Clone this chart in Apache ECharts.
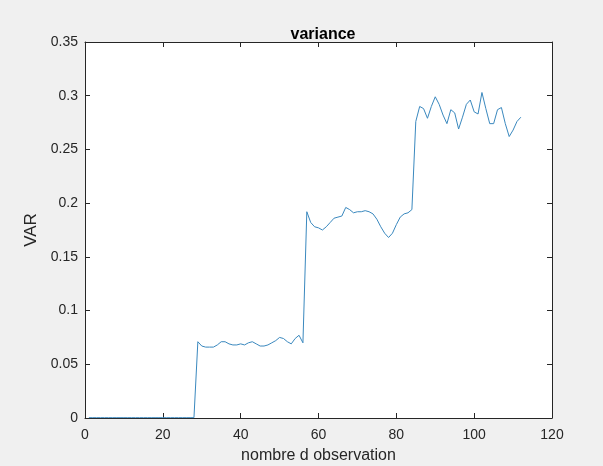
<!DOCTYPE html>
<html>
<head>
<meta charset="utf-8">
<script src="https://cdn.jsdelivr.net/npm/echarts@6/dist/echarts.min.js"></script>
<style>
  html, body { margin: 0; padding: 0; background: #f0f0f0; }
  #chart { width: 603px; height: 466px; }
</style>
</head>
<body>
<div id="chart"></div>
<script>
// Observation index runs 1..112, four blocks of 28
const seg1 = [0.0003,0.0003,0.0003,0.0003,0.0003,0.0003,0.0003,0.0003,0.0003,0.0003,
              0.0003,0.0003,0.0003,0.0003,0.0003,0.0003,0.0003,0.0003,0.0003,0.0003,
              0.0003,0.0003,0.0003,0.0003,0.0003,0.0003,0.0003,0.0003];
const seg2 = [0.071,0.067,0.066,0.066,0.066,0.068,0.071,0.071,0.069,0.068,
              0.068,0.069,0.068,0.070,0.071,0.069,0.067,0.067,0.068,0.070,
              0.072,0.075,0.074,0.071,0.069,0.074,0.077,0.070];
const seg3 = [0.192,0.182,0.178,0.177,0.175,0.178,0.182,0.186,0.187,0.188,
              0.196,0.194,0.191,0.192,0.192,0.193,0.192,0.190,0.185,0.178,
              0.172,0.168,0.172,0.180,0.187,0.190,0.191,0.194];
const seg4 = [0.276,0.290,0.288,0.279,0.290,0.299,0.292,0.282,0.274,0.287,
              0.284,0.269,0.280,0.292,0.296,0.285,0.283,0.303,0.288,0.274,
              0.274,0.287,0.289,0.274,0.262,0.268,0.276,0.280];
const variance = seg1.concat(seg2, seg3, seg4);

const xTicks = [0, 20, 40, 60, 80, 100, 120];
const yTicks = [0, 0.05, 0.1, 0.15, 0.2, 0.25, 0.3, 0.35];

const points = variance.map((v, i) => [i + 1, v]);

const ink = '#262626';
const font = 'Liberation Sans, Arial, Helvetica, sans-serif';

const chart = echarts.init(document.getElementById('chart'));
chart.setOption({
  backgroundColor: '#f0f0f0',
  animation: false,
  title: {
    text: 'variance',
    left: 318, top: 22, textAlign: 'center',
    textStyle: { fontFamily: font, fontSize: 16, fontWeight: 'bold', color: '#000' }
  },
  grid: {
    left: 85, right: 51, top: 42, bottom: 48,
    outerBoundsMode: 'none', containLabel: false,
    show: true, backgroundColor: '#fff', borderWidth: 0
  },
  xAxis: [{
    type: 'value', min: 0, max: 120, interval: 20,
    name: 'nombre d observation', nameLocation: 'middle', nameGap: 30,
    nameTextStyle: { fontFamily: font, fontSize: 16, color: ink },
    axisLine: { show: true, onZero: false, lineStyle: { color: ink, width: 1 } },
    axisTick: { show: true, inside: true, length: 5, lineStyle: { color: ink } },
    axisLabel: { fontFamily: font, fontSize: 14, color: ink, margin: 10,
                 formatter: v => xTicks.includes(v) ? String(v) : '' },
    splitLine: { show: false }
  }, {
    type: 'value', position: 'top', min: 0, max: 120, interval: 20,
    axisLine: { show: true, onZero: false, lineStyle: { color: ink, width: 1 } },
    axisTick: { show: true, inside: true, length: 5, lineStyle: { color: ink } },
    axisLabel: { show: false }, splitLine: { show: false }
  }],
  yAxis: [{
    type: 'value', min: 0, max: 0.35, interval: 0.05,
    name: 'VAR', nameLocation: 'middle', nameGap: 39,
    nameTextStyle: { fontFamily: font, fontSize: 17, color: ink },
    axisLine: { show: true, onZero: false, lineStyle: { color: ink, width: 1 } },
    axisTick: { show: true, inside: true, length: 5, lineStyle: { color: ink } },
    axisLabel: { fontFamily: font, fontSize: 14, color: ink, margin: 7,
                 formatter: v => {
                   const t = yTicks.find(y => Math.abs(y - v) < 1e-9);
                   return t === undefined ? '' : String(+t.toFixed(2));
                 } },
    splitLine: { show: false }
  }, {
    type: 'value', position: 'right', min: 0, max: 0.35, interval: 0.05,
    axisLine: { show: true, onZero: false, lineStyle: { color: ink, width: 1 } },
    axisTick: { show: true, inside: true, length: 5, lineStyle: { color: ink } },
    axisLabel: { show: false }, splitLine: { show: false }
  }],
  series: [{
    type: 'line',
    data: points,
    showSymbol: false,
    lineStyle: { color: '#3a88be', width: 1 },
    z: 3
  }]
});
</script>
</body>
</html>
